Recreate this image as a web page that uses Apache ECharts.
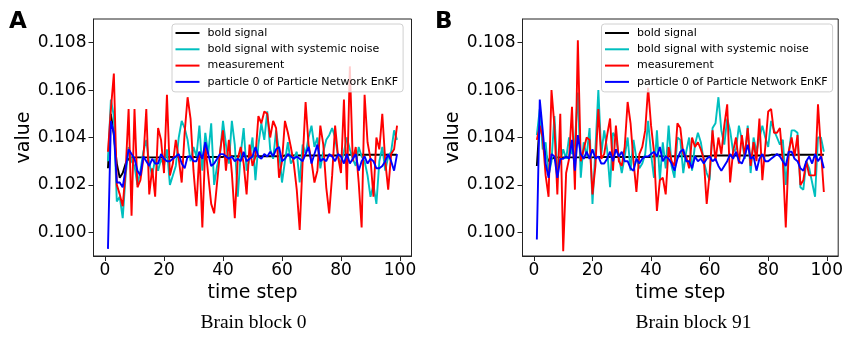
<!DOCTYPE html>
<html>
<head>
<meta charset="utf-8">
<script src="https://cdn.jsdelivr.net/npm/echarts@6/dist/echarts.min.js"></script>
<style>
html,body{margin:0;padding:0;background:#fff;}
#c{width:846px;height:338px;}
</style>
</head>
<body>
<div id="c"></div>
<script>
// ---- data ----
const timeSteps = Array.from({length: 99}, (_, i) => i + 1);
const seriesNames = ['bold signal', 'bold signal with systemic noise', 'measurement', 'particle 0 of Particle Network EnKF'];
const yTicks = [0.100, 0.102, 0.104, 0.106, 0.108];
const xTicks = [0, 20, 40, 60, 80, 100];
const panelTitles = ['Brain block 0', 'Brain block 91'];
const panelLetters = ['A', 'B'];

// Panel A (Brain block 0)
const boldA = [0.1027,0.1050,0.1041,0.1029,0.1023,0.1025,0.1029,0.1031,
0.10316,0.10316,0.10316,0.10316,0.10316,0.10316,0.10316,0.10316,0.10316,0.10316,0.10316,0.10316,
0.10318,0.10318,0.10318,0.10318,0.10318,0.10318,0.10318,0.10318,0.10318,0.10318,
0.10318,0.10318,0.10318,0.10318,0.10318,0.10318,0.10318,0.10318,0.10318,0.10318,
0.10321,0.10321,0.10321,0.10321,0.10321,0.10321,0.10321,0.10321,0.10321,0.10321,
0.10321,0.10321,0.10321,0.10321,0.10321,0.10321,0.10321,0.10321,0.10321,0.10321,
0.10324,0.10324,0.10324,0.10324,0.10324,0.10324,0.10324,0.10324,0.10324,0.10324,
0.10324,0.10324,0.10324,0.10324,0.10324,0.10324,0.10324,0.10324,0.10324,0.10324,
0.10327,0.10327,0.10327,0.10327,0.10327,0.10327,0.10327,0.10327,0.10327,0.10327,
0.10327,0.10327,0.10327,0.10327,0.10327,0.10327,0.10327,0.10327,0.10327];
const noisyA = [0.1030,0.1056,0.1049,0.1013,0.1015,0.1006,0.1024,0.1036,0.1030,0.1028,
0.1020,0.1026,0.1034,0.1039,0.1029,0.1024,0.1031,0.1026,0.1031,0.1028,
0.1035,0.1020,0.1024,0.1028,0.1040,0.1047,0.1044,0.1039,0.1030,0.1036,
0.1032,0.1045,0.1026,0.1042,0.1033,0.1046,0.1020,0.1028,0.1033,0.1047,
0.1037,0.1029,0.1047,0.1037,0.1015,0.1033,0.1044,0.1026,0.1031,0.1040,
0.1022,0.1037,0.1046,0.1039,0.1051,0.1035,0.1031,0.1043,0.1034,0.1021,
0.1030,0.1038,0.1029,0.1031,0.1034,0.1021,0.1037,0.1033,0.1040,0.1045,
0.1036,0.1040,0.1027,0.1034,0.1039,0.1041,0.1044,0.1040,0.1032,0.1029,
0.1034,0.1040,0.1035,0.1031,0.1028,0.1036,0.1032,0.1030,0.1024,0.1015,
0.1020,0.1012,0.1030,0.1036,0.1026,0.1032,0.1034,0.1043,0.1039];
const measA = [0.1034,0.1052,0.1067,0.1020,0.1016,0.1011,0.1026,0.1052,0.1007,0.1052,
0.1019,0.1022,0.1031,0.1052,0.1016,0.1027,0.1015,0.1044,0.1039,0.1025,
0.1058,0.1024,0.1029,0.1039,0.1031,0.1021,0.1042,0.1057,0.1048,0.1026,
0.1011,0.1034,0.1002,0.1037,0.1024,0.1012,0.1008,0.1021,0.1034,0.1043,
0.1026,0.1039,0.1025,0.1006,0.1031,0.1036,0.1029,0.1016,0.1037,0.1028,
0.1032,0.1049,0.1046,0.1051,0.1050,0.1040,0.1047,0.1044,0.1023,0.1030,
0.1047,0.1042,0.1036,0.1029,0.1018,0.1001,0.1030,0.1055,0.1037,0.1030,
0.1021,0.1026,0.1045,0.1037,0.1019,0.1008,0.1024,0.1045,0.1032,0.1025,
0.1056,0.1018,0.1070,0.1030,0.1036,0.1021,0.1002,0.1058,0.1038,0.1031,
0.1015,0.1040,0.1035,0.1050,0.1030,0.1018,0.1033,0.1035,0.1045];
const particleA = [0.0993,0.1047,0.1042,0.1021,0.1021,0.1019,0.1027,0.1035,0.1033,0.1031,
0.1026,0.1024,0.1032,0.1030,0.1028,0.1031,0.1029,0.1029,0.1033,0.1031,
0.1030,0.1030,0.1031,0.1032,0.1033,0.1029,0.1027,0.1032,0.1032,0.1030,
0.1030,0.1034,0.1031,0.1038,0.1033,0.1028,0.1029,0.1031,0.1033,0.1033,
0.1032,0.1031,0.1032,0.1030,0.1031,0.1030,0.1034,0.1030,0.1031,0.1032,
0.1036,0.1032,0.1031,0.1033,0.1032,0.1034,0.1032,0.1035,0.1036,0.1030,
0.1031,0.1033,0.1032,0.1031,0.1032,0.1031,0.1030,0.1033,0.1036,0.1029,
0.1033,0.1037,0.1030,0.1031,0.1030,0.1033,0.1032,0.1030,0.1033,0.1032,
0.1029,0.1033,0.1029,0.1031,0.1033,0.1026,0.1030,0.1032,0.1029,0.1031,
0.1030,0.1027,0.1027,0.1028,0.1030,0.1033,0.1030,0.1026,0.1033];

// Panel B (Brain block 91)
const boldB = [0.1028,0.1047,0.1039,0.1033,0.1030,0.1031,0.10315,0.10316,
0.10316,0.10316,0.10316,0.10316,0.10316,0.10316,0.10316,0.10316,0.10316,0.10316,0.10316,0.10316,
0.10318,0.10318,0.10318,0.10318,0.10318,0.10318,0.10318,0.10318,0.10318,0.10318,
0.10318,0.10318,0.10318,0.10318,0.10318,0.10318,0.10318,0.10318,0.10318,0.10318,
0.10321,0.10321,0.10321,0.10321,0.10321,0.10321,0.10321,0.10321,0.10321,0.10321,
0.10321,0.10321,0.10321,0.10321,0.10321,0.10321,0.10321,0.10321,0.10321,0.10321,
0.10324,0.10324,0.10324,0.10324,0.10324,0.10324,0.10324,0.10324,0.10324,0.10324,
0.10324,0.10324,0.10324,0.10324,0.10324,0.10324,0.10324,0.10324,0.10324,0.10324,
0.10327,0.10327,0.10327,0.10327,0.10327,0.10327,0.10327,0.10327,0.10327,0.10327,
0.10327,0.10327,0.10327,0.10327,0.10327,0.10327,0.10327,0.10327,0.10327];
const noisyB = [0.1041,0.1052,0.1035,0.1038,0.1024,0.1030,0.1049,0.1026,0.1030,0.1035,
0.1031,0.1040,0.1033,0.1038,0.1059,0.1023,0.1038,0.1032,0.1044,0.1012,
0.1035,0.1060,0.1033,0.1043,0.1035,0.1019,0.1042,0.1040,0.1032,0.1025,
0.1032,0.1040,0.1026,0.1039,0.1031,0.1027,0.1029,0.1033,0.1047,0.1033,
0.1023,0.1043,0.1022,0.1038,0.1027,0.1045,0.1028,0.1023,0.1040,0.1039,
0.1025,0.1034,0.1040,0.1026,0.1037,0.1042,0.1038,0.1030,0.1025,0.1022,
0.1044,0.1046,0.1057,0.1043,0.1037,0.1048,0.1043,0.1034,0.1035,0.1045,
0.1039,0.1031,0.1045,0.1025,0.1040,0.1034,0.1040,0.1045,0.1040,0.1036,
0.1047,0.1043,0.1040,0.1037,0.1039,0.1020,0.1033,0.1043,0.1043,0.1042,
0.1019,0.1018,0.1030,0.1027,0.1021,0.1015,0.1040,0.1040,0.1034];
const measB = [0.1039,0.1045,0.1040,0.1024,0.1015,0.1060,0.1045,0.1016,0.1050,0.0992,
0.1025,0.1031,0.1053,0.1018,0.1081,0.1030,0.1035,0.1040,0.1039,0.1016,
0.1028,0.1052,0.1031,0.1033,0.1041,0.1048,0.1026,0.1045,0.1030,0.1028,
0.1036,0.1055,0.1046,0.1030,0.1017,0.1033,0.1036,0.1043,0.1061,0.1045,
0.1034,0.1009,0.1022,0.1023,0.1016,0.1036,0.1030,0.1028,0.1046,0.1044,
0.1033,0.1032,0.1027,0.1040,0.1036,0.1038,0.1035,0.1031,0.1012,0.1025,
0.1043,0.1030,0.1040,0.1033,0.1045,0.1054,0.1021,0.1034,0.1040,0.1029,
0.1041,0.1032,0.1044,0.1028,0.1038,0.1030,0.1048,0.1022,0.1036,0.1051,
0.1052,0.1042,0.1042,0.1044,0.1030,0.1002,0.1034,0.1040,0.1032,0.1041,
0.1020,0.1022,0.1030,0.1024,0.1024,0.1024,0.1054,0.1035,0.1017];
const particleB = [0.0997,0.1056,0.1043,0.1029,0.1023,0.1033,0.1032,0.1023,0.1031,0.1031,
0.1032,0.1031,0.1039,0.1026,0.1041,0.1033,0.1031,0.1034,0.1031,0.1035,
0.1031,0.1032,0.1029,0.1029,0.1031,0.1034,0.1030,0.1035,0.1032,0.1034,
0.1030,0.1030,0.1027,0.1026,0.1031,0.1029,0.1031,0.1032,0.1032,0.1033,
0.1034,0.1032,0.1036,0.1030,0.1032,0.1031,0.1029,0.1026,0.1031,0.1034,
0.1035,0.1030,0.1030,0.1027,0.1032,0.1030,0.1031,0.1029,0.1031,0.1032,
0.1030,0.1031,0.1028,0.1026,0.1028,0.1030,0.1033,0.1031,0.1034,0.1030,
0.1029,0.1032,0.1037,0.1031,0.1032,0.1026,0.1031,0.1033,0.1030,0.1030,
0.1031,0.1032,0.1033,0.1032,0.1030,0.1028,0.1034,0.1034,0.1031,0.1030,
0.1027,0.1026,0.1030,0.1032,0.1029,0.1033,0.1030,0.1032,0.1027];

// ---- chart ----
const colors = ['#000000', '#00BFBF', '#FF0000', '#0000FF'];
const panels = [
  {vals: [boldA, noisyA, measA, particleA], grid: {left: 93.5, top: 19, width: 318, height: 237}, legend: {left: 172, top: 24}},
  {vals: [boldB, noisyB, measB, particleB], grid: {left: 522.5, top: 19, width: 318, height: 237}, legend: {left: 601.5, top: 24}}
];
const tickFont = {fontFamily: 'DejaVu Sans', fontSize: 17, color: '#000'};

const option = {
  animation: false,
  backgroundColor: '#fff',
  grid: panels.map(p => Object.assign({show: true, borderColor: '#222', borderWidth: 1, backgroundColor: 'transparent'}, p.grid)),
  xAxis: panels.map((p, i) => ({
    type: 'value', gridIndex: i, min: -3.9, max: 103.9,
    name: 'time step', nameLocation: 'middle', nameGap: 25,
    nameTextStyle: {fontFamily: 'DejaVu Sans', fontSize: 19, color: '#000'},
    axisLine: {show: true, onZero: false, lineStyle: {color: '#222', width: 1}},
    axisTick: {show: true, length: 5, lineStyle: {color: '#222'}, customValues: xTicks},
    axisLabel: Object.assign({margin: 6, customValues: xTicks}, tickFont),
    splitLine: {show: false}
  })),
  yAxis: panels.map((p, i) => ({
    type: 'value', gridIndex: i, min: 0.099, max: 0.109,
    name: 'value', nameLocation: 'middle', nameGap: 58,
    nameTextStyle: {fontFamily: 'DejaVu Sans', fontSize: 19, color: '#000'},
    axisLine: {show: true, onZero: false, lineStyle: {color: '#222', width: 1}},
    axisTick: {show: true, length: 5, lineStyle: {color: '#222'}, customValues: yTicks},
    axisLabel: Object.assign({margin: 7, customValues: yTicks, formatter: v => v.toFixed(3)}, tickFont),
    splitLine: {show: false}
  })),
  legend: panels.map((p, i) => ({
    orient: 'vertical', left: p.legend.left, top: p.legend.top,
    data: seriesNames,
    icon: 'rect',
    itemWidth: 24, itemHeight: 2, itemGap: 4.3,
    padding: [3, 5, 4, 3.5],
    backgroundColor: 'rgba(255,255,255,0.8)', borderColor: '#d0d0d0', borderWidth: 1, borderRadius: 3,
    selectedMode: false,
    textStyle: {fontFamily: 'DejaVu Sans', fontSize: 11, color: '#000', padding: [0, 0, 0, 3], lineHeight: 12}
  })),
  graphic: [
    {type: 'text', left: 9, top: 11, style: {text: panelLetters[0], font: 'bold 23px "DejaVu Sans"', fill: '#000'}},
    {type: 'text', left: 435, top: 11, style: {text: panelLetters[1], font: 'bold 23px "DejaVu Sans"', fill: '#000'}},
    {type: 'text', x: 253.5, y: 323, style: {text: panelTitles[0], font: '19.5px "Liberation Serif"', fill: '#000', align: 'center', verticalAlign: 'middle'}},
    {type: 'text', x: 693.5, y: 323, style: {text: panelTitles[1], font: '19.5px "Liberation Serif"', fill: '#000', align: 'center', verticalAlign: 'middle'}}
  ],
  series: []
};

panels.forEach((p, pi) => {
  p.vals.forEach((arr, si) => {
    option.series.push({
      type: 'line', name: seriesNames[si], xAxisIndex: pi, yAxisIndex: pi,
      data: arr.map((v, k) => [timeSteps[k], v]),
      symbol: 'none', showSymbol: false,
      lineStyle: {color: colors[si], width: 1.9},
      itemStyle: {color: colors[si]},
      z: 2 + si * 0.01,
      clip: true
    });
  });
});

const chart = echarts.init(document.getElementById('c'), null, {renderer: 'canvas'});
chart.setOption(option);
</script>
</body>
</html>
